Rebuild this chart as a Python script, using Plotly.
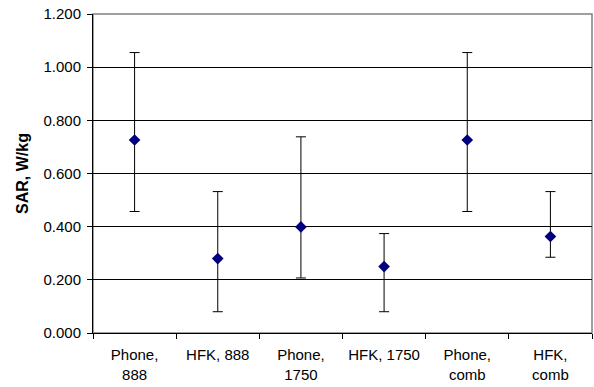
import plotly.graph_objects as go

categories = ["Phone,<br>888", "HFK, 888", "Phone,<br>1750", "HFK, 1750", "Phone,<br>comb", "HFK,<br>comb"]
sar_mean = [0.726, 0.280, 0.399, 0.250, 0.726, 0.363]
sar_upper = [1.055, 0.532, 0.738, 0.374, 1.055, 0.532]
sar_lower = [0.457, 0.080, 0.207, 0.080, 0.457, 0.285]
y_ticks = [0.0, 0.2, 0.4, 0.6, 0.8, 1.0, 1.2]

err_plus = [u - m for u, m in zip(sar_upper, sar_mean)]
err_minus = [m - l for m, l in zip(sar_mean, sar_lower)]

fig = go.Figure()
fig.add_trace(go.Scatter(
    x=categories, y=sar_mean, mode="markers",
    marker=dict(symbol="diamond", color="#000080", size=9),
    error_y=dict(type="data", symmetric=False, array=err_plus, arrayminus=err_minus,
                 color="black", thickness=1, width=5),
    showlegend=False,
))

FAM = "Liberation Sans, Arial, sans-serif"
font = dict(family=FAM, size=15, color="black")
fig.update_layout(
    width=594, height=387,
    margin=dict(l=93, r=2, t=14, b=54),
    paper_bgcolor="white", plot_bgcolor="white",
    font=font,
    shapes=[dict(type="rect", xref="paper", yref="paper", x0=0, y0=0, x1=1, y1=1,
                 line=dict(color="#808080", width=1.5), layer="below")],
)
fig.update_xaxes(
    type="category", tickson="boundaries", ticks="outside", ticklen=5, tickcolor="black",
    showline=True, linecolor="black", linewidth=1, showgrid=False,
    tickfont=font, range=[-0.5, 5.5], ticklabelstandoff=8,
)
fig.update_yaxes(
    range=[0, 1.2], tickvals=y_ticks, ticktext=[f"{v:.3f}" for v in y_ticks],
    ticks="outside", ticklen=5, tickcolor="black",
    showline=True, linecolor="black", linewidth=1,
    showgrid=True, gridcolor="black", gridwidth=1, zeroline=False,
    tickfont=font, ticklabelstandoff=3,
    title=dict(text="<b>SAR, W/kg</b>", font=dict(family=FAM, size=16, color="black"), standoff=10),
)
fig.write_html("out.html")
